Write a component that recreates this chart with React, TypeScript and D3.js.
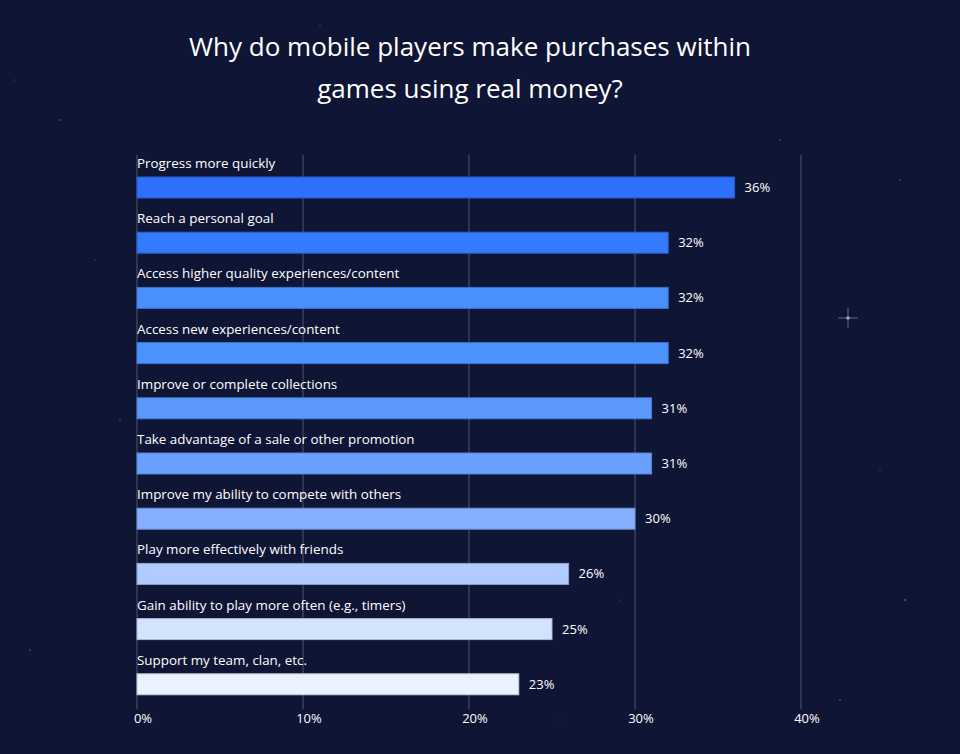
import React from "react";
import * as d3 from "d3";

const categories = [
  "Progress more quickly",
  "Reach a personal goal",
  "Access higher quality experiences/content",
  "Access new experiences/content",
  "Improve or complete collections",
  "Take advantage of a sale or other promotion",
  "Improve my ability to compete with others",
  "Play more effectively with friends",
  "Gain ability to play more often (e.g., timers)",
  "Support my team, clan, etc.",
];
const values = [36, 32, 32, 32, 31, 31, 30, 26, 25, 23];
const barColors = [
  "#2e6ffd",
  "#347afd",
  "#4a90fc",
  "#4c92fc",
  "#5a98fc",
  "#6aa0fd",
  "#86b0fe",
  "#b0cbfe",
  "#d4e3fd",
  "#eaf1ff",
];
const ticks = [0, 10, 20, 30, 40];
const stars: [number, number, number][] = [
  [848, 318, 1.6], [60, 120, 0.8], [905, 600, 0.9], [120, 420, 0.7], [780, 140, 0.7],
  [30, 650, 0.8], [900, 180, 0.7], [560, 720, 0.6], [320, 25, 0.6], [700, 40, 0.7],
  [880, 470, 0.6], [95, 260, 0.6], [620, 600, 0.6], [840, 700, 0.8], [15, 80, 0.6],
];

export default function App() {
  const W = 960, H = 754;
  const x = d3.scaleLinear().domain([0, 40]).range([137, 801]);
  const bh = 21;
  const barY = (i: number) => 177 + i * 55.2;
  const font = "'Open Sans', Roboto, sans-serif";
  return (
    <svg width={W} height={H} style={{ position: "absolute", left: 0, top: 0, background: "#0f1535" }}>
      <rect x={0} y={0} width={W} height={H} fill="#0f1535" />
      {stars.map(([sx, sy, r], i) => (
        <circle key={i} cx={sx} cy={sy} r={r} fill="#9aa3c0" opacity={0.6} />
      ))}
      <g opacity={0.6}>
        <line x1={838} x2={858} y1={318} y2={318} stroke="#c0c6d8" strokeWidth={0.8} />
        <line x1={848} x2={848} y1={308} y2={328} stroke="#c0c6d8" strokeWidth={0.8} />
        <circle cx={848} cy={318} r={1.8} fill="#d0d5e4" />
      </g>
      <text x={470} y={56} textAnchor="middle" fill="#ffffff" fontFamily={font} fontSize={26}>
        Why do mobile players make purchases within
      </text>
      <text x={470} y={98} textAnchor="middle" fill="#ffffff" fontFamily={font} fontSize={26}>
        games using real money?
      </text>
      {ticks.map((t) => (
        <g key={t}>
          <line x1={x(t)} x2={x(t)} y1={155} y2={709} stroke="#50556c" strokeWidth={1} />
          <text x={x(t) + 6} y={723} textAnchor="middle" fill="#ffffff" fontFamily={font} fontSize={13} fontWeight={500}>
            {t}%
          </text>
        </g>
      ))}
      {categories.map((c, i) => (
        <g key={c}>
          <text x={137} y={barY(i) - 9} fill="#ffffff" fontFamily={font} fontSize={13.4} fontWeight={500}>
            {c}
          </text>
          <rect
            x={x(0)}
            y={barY(i)}
            width={x(values[i]) - x(0)}
            height={bh}
            fill={barColors[i]}
            stroke={d3.color(barColors[i])!.darker(0.6).toString()}
            strokeWidth={1}
          />
          <text x={x(values[i]) + 10} y={barY(i) + bh / 2 + 4.5} fill="#ffffff" fontFamily={font} fontSize={13} fontWeight={500}>
            {values[i]}%
          </text>
        </g>
      ))}
    </svg>
  );
}
